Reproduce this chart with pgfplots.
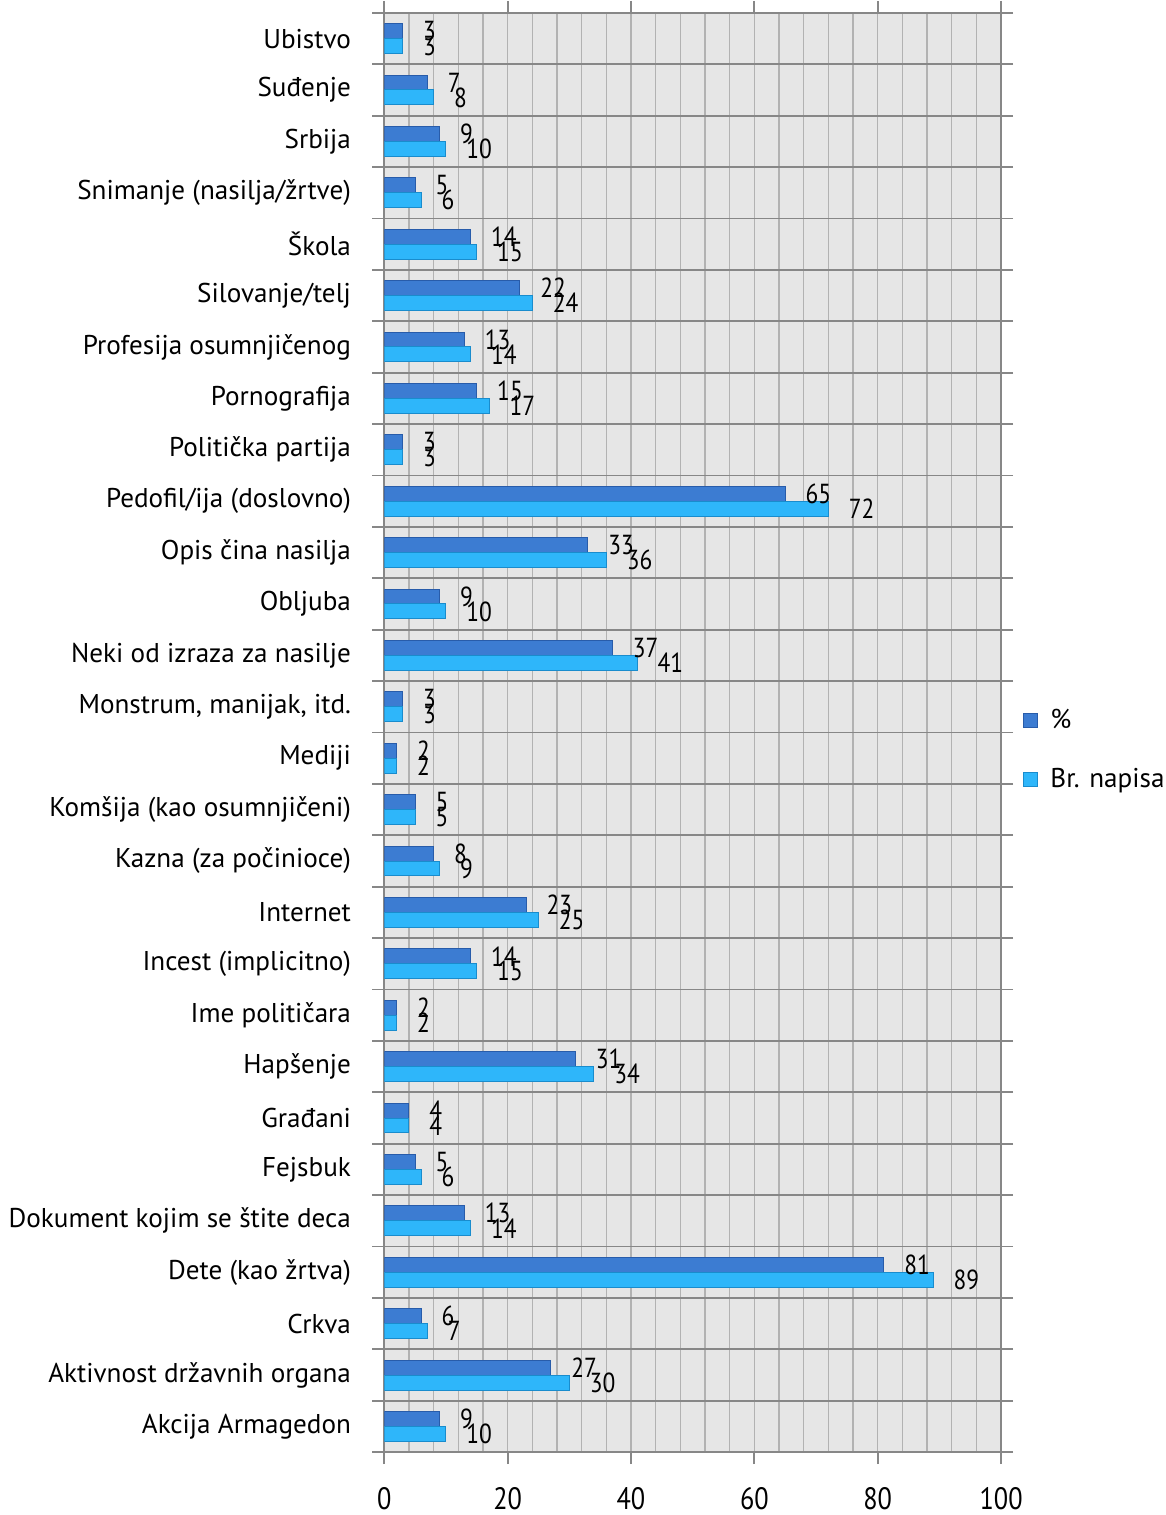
\documentclass[border=0pt]{standalone}
\usepackage{pgfplots}
\pgfplotsset{compat=1.18}
\usepackage{fontspec}
\setmainfont{PT Sans}
\newfontfamily\narrow{PT Sans}[FakeStretch=0.85]
\definecolor{cdark}{RGB}{60,124,210}
\definecolor{cdarkb}{RGB}{40,92,170}
\definecolor{clight}{RGB}{46,182,250}
\definecolor{clightb}{RGB}{25,140,205}
\definecolor{cbg}{RGB}{230,230,230}
\definecolor{cgridh}{RGB}{135,135,135}
\definecolor{cgridv}{RGB}{178,178,178}
\begin{document}
\begin{tikzpicture}
\begin{axis}[
  scale only axis,
  width=309pt, height=721pt,
  xbar, bar width=7.5pt,
  y dir=reverse,
  xmin=0, xmax=100,
  ymin=-0.5, ymax=27.5,
  axis background/.style={fill=cbg},
  axis line style={cgridh, line width=0.9pt},
  /pgf/number format/assume math mode=true,
  tick align=outside,
  major tick length=6pt,
  minor tick length=0pt,
  tick style={cgridh, line width=0.9pt},
  xtick={0,20,40,60,80,100},
  minor xtick={4,8,12,16,24,28,32,36,44,48,52,56,64,68,72,76,84,88,92,96},
  xmajorgrids, xminorgrids,
  major x grid style={cgridv, line width=0.6pt},
  minor x grid style={cgridv, line width=0.6pt},
  ytick={-0.5,0.5,1.5,2.5,3.5,4.5,5.5,6.5,7.5,8.5,9.5,10.5,11.5,12.5,13.5,14.5,15.5,16.5,17.5,18.5,19.5,20.5,21.5,22.5,23.5,24.5,25.5,26.5,27.5},
  yticklabels={},
  ymajorgrids,
  major y grid style={cgridh, line width=0.9pt},
  extra y ticks={0,1,2,3,4,5,6,7,8,9,10,11,12,13,14,15,16,17,18,19,20,21,22,23,24,25,26,27},
  extra y tick labels={Ubistvo,Suđenje,Srbija,Snimanje (nasilja/žrtve),Škola,Silovanje/telj,Profesija osumnjičenog,Pornografija,Politička partija,Pedofil/ija (doslovno),Opis čina nasilja,Obljuba,Neki od izraza za nasilje,{Monstrum, manijak, itd.},Mediji,Komšija (kao osumnjičeni),Kazna (za počinioce),Internet,Incest (implicitno),Ime političara,Hapšenje,Građani,Fejsbuk,Dokument kojim se štite deca,Dete (kao žrtva),Crkva,Aktivnost državnih organa,Akcija Armagedon},
  extra y tick style={major tick length=0pt, grid=none, yticklabel style={font=\fontsize{13.6}{15}\selectfont, inner sep=0pt, xshift=-16.5pt}},
  xticklabel style={font=\narrow\fontsize{15.5}{17}\selectfont, inner sep=0pt, yshift=-11.5pt},
  nodes near coords,
  nodes near coords style={anchor=west, inner sep=0pt, xshift=10pt, font=\narrow\fontsize{13.8}{15}\selectfont, text=black},
  legend style={at={(axis description cs:1,0.488)}, anchor=west, xshift=11pt, draw=none, fill=none, inner sep=0pt, nodes={inner sep=0pt}, font=\fontsize{13.6}{15}\selectfont, row sep=18.5pt, legend cell align=left},
  legend image code/.code={\fill[#1] (0pt,-3.5pt) rectangle (7pt,3.5pt); \path (13pt,0pt);},
]
\addplot[fill=cdark, draw=cdarkb, line width=0.5pt, bar shift=3.75pt] coordinates {
(3,0) (7,1) (9,2) (5,3) (14,4) (22,5) (13,6) (15,7) (3,8) (65,9) (33,10) (9,11) (37,12) (3,13) (2,14) (5,15) (8,16) (23,17) (14,18) (2,19) (31,20) (4,21) (5,22) (13,23) (81,24) (6,25) (27,26) (9,27)};
\addplot[fill=clight, draw=clightb, line width=0.5pt, bar shift=-3.75pt] coordinates {
(3,0) (8,1) (10,2) (6,3) (15,4) (24,5) (14,6) (17,7) (3,8) (72,9) (36,10) (10,11) (41,12) (3,13) (2,14) (5,15) (9,16) (25,17) (15,18) (2,19) (34,20) (4,21) (6,22) (14,23) (89,24) (7,25) (30,26) (10,27)};
\legend{\%, Br. napisa}
\end{axis}
\path ([shift={(-192.5pt,-31.5pt)}]current axis.south west) rectangle ([shift={(82.5pt,5pt)}]current axis.north east);
\end{tikzpicture}
\end{document}
